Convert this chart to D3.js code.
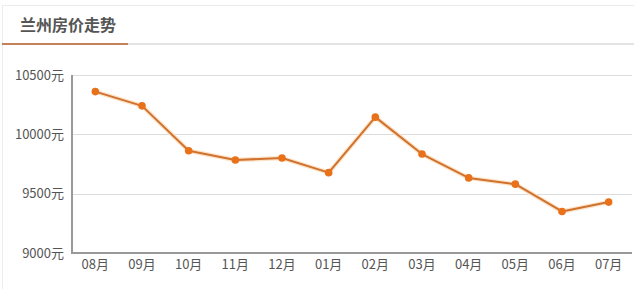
<!DOCTYPE html>
<html>
<head>
<meta charset="utf-8">
<script src="https://cdn.jsdelivr.net/npm/d3@7"></script>
<style>
  body { margin: 0; background: #fff; }
  svg { display: block; font-family: "Noto Sans CJK SC", "Open Sans", sans-serif; }
</style>
</head>
<body>
<svg id="chart" width="634" height="289"></svg>
<script>
const title = '兰州房价走势';
const months = ['08月', '09月', '10月', '11月', '12月', '01月', '02月', '03月', '04月', '05月', '06月', '07月'];
const prices = [10360, 10240, 9862, 9784, 9800, 9677, 10145, 9834, 9633, 9580, 9350, 9429];
const yTicks = [9000, 9500, 10000, 10500];

const width = 634;
const height = 289;
const margin = { top: 75, right: 2, bottom: 36, left: 72 };

const svg = d3.select('#chart');

// card frame
svg.append('line')
  .attr('x1', 2).attr('x2', width).attr('y1', 5.5).attr('y2', 5.5)
  .attr('stroke', '#ececec');
svg.append('line')
  .attr('x1', 2.5).attr('x2', 2.5).attr('y1', 5).attr('y2', height)
  .attr('stroke', '#ececec');

// header
svg.append('text')
  .attr('x', 20).attr('y', 31)
  .attr('font-size', 16)
  .attr('font-weight', 'bold')
  .attr('fill', '#555')
  .text(title);
svg.append('line')
  .attr('x1', 2).attr('x2', width).attr('y1', 44).attr('y2', 44)
  .attr('stroke', '#e3e3e3').attr('stroke-width', 2);
svg.append('line')
  .attr('x1', 2).attr('x2', 128).attr('y1', 44).attr('y2', 44)
  .attr('stroke', '#c6805a').attr('stroke-width', 2);

const x = d3.scaleBand()
  .domain(months)
  .range([margin.left, width - margin.right]);

const y = d3.scaleLinear()
  .domain([9000, 10500])
  .range([height - margin.bottom, margin.top]);

// grid
svg.append('g')
  .selectAll('line')
  .data(yTicks.slice(1))
  .join('line')
  .attr('x1', margin.left).attr('x2', width - margin.right)
  .attr('y1', d => Math.round(y(d)) + 0.5).attr('y2', d => Math.round(y(d)) + 0.5)
  .attr('stroke', '#dcdcdc');

// y labels
svg.append('g')
  .attr('font-size', 13)
  .attr('fill', '#555')
  .attr('text-anchor', 'end')
  .selectAll('text')
  .data(yTicks)
  .join('text')
  .attr('x', 64)
  .attr('y', d => y(d))
  .attr('dy', '0.35em')
  .text(d => d + '元');

// axes lines
svg.append('line')
  .attr('x1', margin.left).attr('x2', margin.left)
  .attr('y1', margin.top).attr('y2', y(9000) + 1)
  .attr('stroke', '#999').attr('stroke-width', 2);
svg.append('line')
  .attr('x1', margin.left - 1).attr('x2', width - margin.right)
  .attr('y1', y(9000)).attr('y2', y(9000))
  .attr('stroke', '#999').attr('stroke-width', 2);

// x labels
svg.append('g')
  .attr('font-size', 13)
  .attr('fill', '#555')
  .attr('text-anchor', 'middle')
  .selectAll('text')
  .data(months)
  .join('text')
  .attr('x', d => x(d) + x.bandwidth() / 2)
  .attr('y', y(9000) + 11)
  .attr('dy', '0.35em')
  .text(d => d);

const pts = months.map((m, i) => [x(m) + x.bandwidth() / 2, y(prices[i])]);
const line = d3.line();

// glow
svg.append('path')
  .attr('d', line(pts))
  .attr('fill', 'none')
  .attr('stroke', '#fde3c6')
  .attr('stroke-width', 4.5)
  .attr('stroke-linejoin', 'round');
svg.append('path')
  .attr('d', line(pts))
  .attr('fill', 'none')
  .attr('stroke', '#cf7230')
  .attr('stroke-width', 2)
  .attr('stroke-linejoin', 'round');

svg.append('g')
  .selectAll('circle')
  .data(pts)
  .join('circle')
  .attr('cx', d => d[0])
  .attr('cy', d => d[1])
  .attr('r', 3.8)
  .attr('fill', '#e8711a');
</script>
</body>
</html>
